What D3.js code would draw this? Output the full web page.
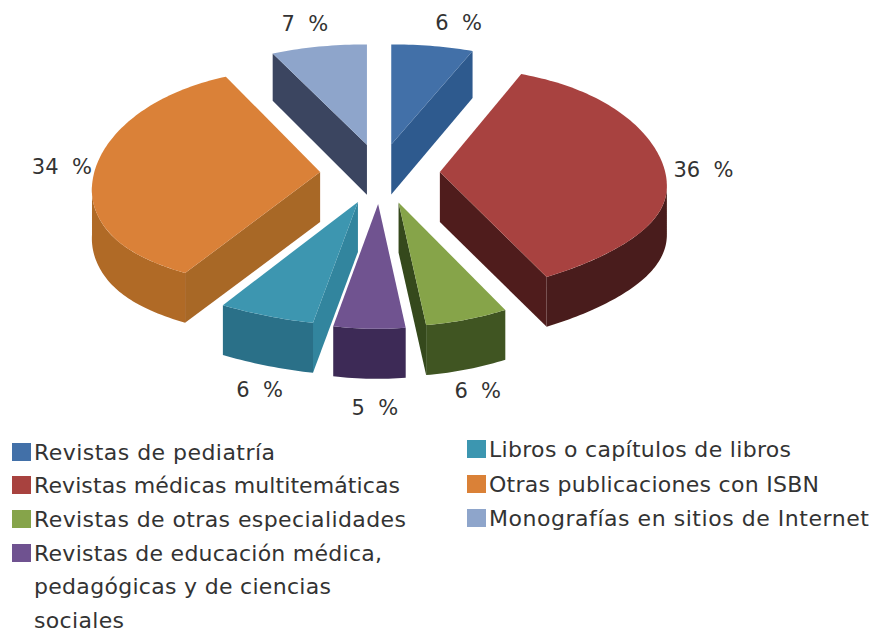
<!DOCTYPE html>
<html>
<head>
<meta charset="utf-8">
<script src="https://cdn.jsdelivr.net/npm/d3@7"></script>
<style>
    html, body { margin: 0; padding: 0; background: #fff; }
    text { font-family: 'DejaVu Sans', sans-serif; fill: #333; }
</style>
</head>
<body>
<script>
const categories = [
    'Revistas de pediatría',
    'Revistas médicas multitemáticas',
    'Revistas de otras especialidades',
    'Revistas de educación médica,\npedagógicas y de ciencias\nsociales',
    'Libros o capítulos de libros',
    'Otras publicaciones con ISBN',
    'Monografías en sitios de Internet'
];
const percents = [6, 36, 6, 5, 6, 34, 7];

const topColors = ['#4270a8', '#a8423f', '#86a44a', '#6f5290', '#3c96b0', '#da8137', '#8ea5cb'];
const rimColors = ['#2f5a8e', '#4a1c1a', '#3f5423', '#3d2c56', '#2b6f88', '#b06a28', '#3a4560'];
const faceColors = ['#2f5a8e', '#4f1e1c', '#34491c', '#3d2c56', '#33859e', '#a86728', '#3a4560'];

// label offsets from the middle of each slice's rim
const labelOffsets = [[26, -22], [37, -8], [11, 72], [4, 80], [-7, 75], [-31, -11], [-14, -22]];

// rendered widths of the legend lines, the source font runs wider than DejaVu
const legendWidths = [[241], [366], [372], [348, 297, 90], [302], [330], [380]];

drawPie();

function drawPie()
{
    const width = 875;
    const height = 632;

    const centerX = 380;
    const centerY = 174;
    const explodeX = 60;
    const explodeY = 30;

    const svg = d3.select('body').append('svg')
        .attr('width', width)
        .attr('height', height)
        .style('display', 'block');

    const defs = svg.append('defs');
    defs.append('filter')
        .attr('id', 'soft')
        .attr('x', '-5%').attr('y', '-5%')
        .attr('width', '110%').attr('height', '110%')
        .append('feGaussianBlur')
        .attr('stdDeviation', 0.5);

    const color = d3.scaleOrdinal().domain(categories).range(topColors);

    const slices = d3.pie().sort(null).value(d => d)(percents)
        .map((s, i) => ({...s, index: i, category: categories[i]}));

    // the tilted disc: the back is flatter than the front, the lower left a bit wider
    function rimOffset(a, mid)
    {
        const s = Math.sin(a);
        const c = Math.cos(a);
        const deg = a * 180 / Math.PI;
        const bump = deg > 180 ? Math.exp(-Math.pow((deg - 212) / 32, 2)) : 0;
        const rx = 220 + 7 * s * s + 30 * bump;
        const side = Math.abs(Math.sin(mid));
        const stretch = c > 0 ? 1 + 0.06 * side : 1 - 0.035 * side;
        const v = -110.5 * c / (1 + 0.116 * c) * stretch;
        return [rx * s, v + 14 * s * s * s * s];
    }

    function depth(a)
    {
        return 48.5 - 1.5 * Math.cos(a);
    }

    function midAngle(s)
    {
        return (s.startAngle + s.endAngle) / 2;
    }

    function apex(s)
    {
        const mid = midAngle(s);
        return [centerX + explodeX * Math.sin(mid), centerY - explodeY * Math.cos(mid)];
    }

    function rimPoint(s, a)
    {
        const p = apex(s);
        const o = rimOffset(a, midAngle(s));
        return [p[0] + o[0], p[1] + o[1]];
    }

    function rimRange(from, to)
    {
        const n = Math.max(2, Math.ceil((to - from) / 0.02));
        return d3.range(n + 1).map(i => from + (to - from) * i / n);
    }

    const line = d3.line();
    const pie = svg.append('g').attr('filter', 'url(#soft)');

    // back slices first
    const drawOrder = [6, 0, 5, 1, 4, 2, 3];

    drawOrder.forEach(i =>
    {
        const s = slices[i];
        const p = apex(s);
        const g = pie.append('g').attr('class', 'slice');

        // cut face towards the viewer
        const cuts = [];
        if (Math.sin(s.endAngle) > 0.01) cuts.push(s.endAngle);
        if (Math.sin(s.startAngle) < -0.01) cuts.push(s.startAngle);
        cuts.forEach(a =>
        {
            const r = rimPoint(s, a);
            g.append('path')
                .attr('d', line([p, r, [r[0], r[1] + depth(a)], [p[0], p[1] + depth(Math.PI)]]) + 'Z')
                .attr('fill', faceColors[i]);
        });

        // outer wall, only the part of the rim on the front
        const from = Math.max(s.startAngle, Math.PI / 2);
        const to = Math.min(s.endAngle, 3 * Math.PI / 2);
        if (to > from)
        {
            const upper = rimRange(from, to).map(a => rimPoint(s, a));
            const lower = rimRange(from, to).reverse().map(a =>
            {
                const r = rimPoint(s, a);
                return [r[0], r[1] + depth(a)];
            });
            g.append('path')
                .attr('d', line(upper.concat(lower)) + 'Z')
                .attr('fill', rimColors[i]);
        }

        // top surface
        const rim = rimRange(s.startAngle, s.endAngle).map(a => rimPoint(s, a));
        g.append('path')
            .attr('d', line([p].concat(rim)) + 'Z')
            .attr('fill', color(s.category));
    });

    // percent labels
    svg.selectAll('text.pct')
        .data(slices)
        .enter()
        .append('text')
        .attr('class', 'pct')
        .attr('x', d => rimPoint(d, midAngle(d))[0] + labelOffsets[d.index][0])
        .attr('y', d => rimPoint(d, midAngle(d))[1] + labelOffsets[d.index][1])
        .attr('text-anchor', 'middle')
        .attr('dominant-baseline', 'middle')
        .attr('font-size', 21)
        .text(d => `${d.data}\u00a0\u00a0%`);

    // legend
    const rowY = [452, 485, 519, 553, 449, 484, 518];
    const colX = [12, 12, 12, 12, 467, 467, 467];

    const items = svg.selectAll('g.legend')
        .data(slices)
        .enter()
        .append('g')
        .attr('class', 'legend')
        .attr('transform', d => `translate(${colX[d.index]}, ${rowY[d.index]})`);

    items.append('rect')
        .attr('x', 0)
        .attr('y', -9)
        .attr('width', 19)
        .attr('height', 18)
        .attr('fill', d => color(d.category));

    items.each(function (d)
    {
        d3.select(this).selectAll('text')
            .data(d.category.split('\n'))
            .enter()
            .append('text')
            .attr('x', 22)
            .attr('y', (t, i) => 1.5 + i * 33.5)
            .attr('dominant-baseline', 'middle')
            .attr('font-size', 22)
            .attr('textLength', (t, i) => legendWidths[d.index][i])
            .text(t => t);
    });
}
</script>
</body>
</html>
